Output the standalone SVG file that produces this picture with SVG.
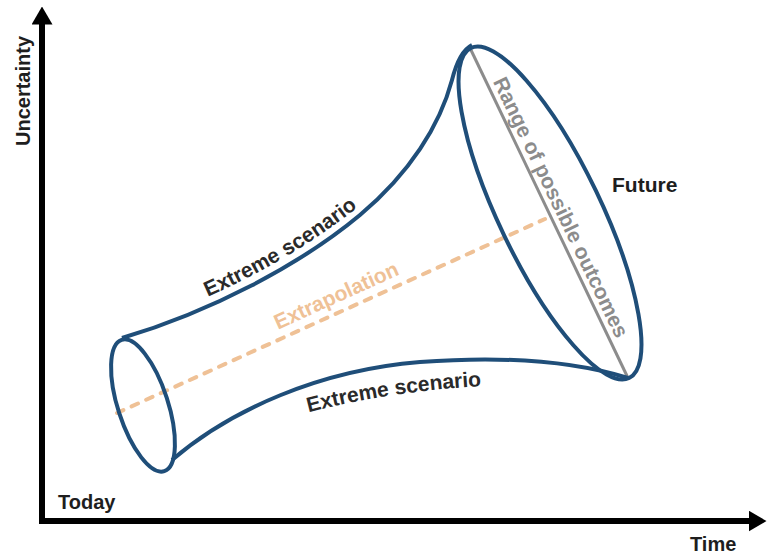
<svg xmlns="http://www.w3.org/2000/svg" width="768" height="557" viewBox="0 0 768 557">
<style>
text{font-family:"Liberation Sans",Arial,sans-serif;font-weight:bold;font-size:21px}
.lbl{fill:#1e1e1e}
.dark{fill:#2a2a2a}
.blue{fill:none;stroke:#1f4e79;stroke-width:4}
.axis{fill:none;stroke:#000;stroke-width:6}
</style>
<defs>
<marker id="arrow" markerUnits="userSpaceOnUse" markerWidth="18" markerHeight="21" viewBox="0 0 18 21" refX="0.5" refY="10.5" orient="auto">
<path d="M0,0 L18,10.5 L0,21 Z" fill="#000"/>
</marker>
<path id="upperTextPath" d="M198,301 Q290,262 366,201"/>
<path id="lowerTextPath" d="M306,413 Q390,391 484,386"/>
</defs>
<rect width="768" height="557" fill="#fff"/>
<g id="axes">
<path class="axis" d="M42,24 L42,521 L749,521" marker-end="url(#arrow)"/>
<line class="axis" x1="42" y1="60" x2="42" y2="24" marker-end="url(#arrow)"/>
<text class="lbl" transform="translate(30,91) rotate(-90)" text-anchor="middle" style="font-size:20px">Uncertainty</text>
<text class="lbl" x="690" y="551" style="font-size:20px">Time</text>
<text class="lbl" x="58" y="509" style="font-size:20px">Today</text>
</g>
<g id="connectors">
<path id="extrapolation" d="M117,413 L545,219" fill="none" stroke="#efc196" stroke-width="4" stroke-linecap="round" stroke-dasharray="7 9"/>
<line id="range" x1="470" y1="48" x2="628" y2="378" stroke="#8c8c8c" stroke-width="3"/>
</g>
<g id="funnel">
<path class="blue" d="M122,338 C210,312 300,265 360,215 C410,173 440,125 452,80 C456,64 462,50 472,45"/>
<path class="blue" d="M172,460 C230,410 320,370 420,362 C500,356 570,360 628,378"/>
</g>
<g id="today-end">
<ellipse class="blue" cx="143" cy="405.5" rx="25" ry="69" transform="rotate(-18 143 405.5)"/>
</g>
<g id="future-end">
<ellipse class="blue" cx="550" cy="213" rx="51" ry="183" transform="rotate(-25.6 550 213)"/>
</g>
<g id="labels">
<text class="dark"><textPath href="#upperTextPath" startOffset="50%" text-anchor="middle">Extreme scenario</textPath></text>
<text class="dark"><textPath href="#lowerTextPath" startOffset="50%" text-anchor="middle">Extreme scenario</textPath></text>
<text transform="translate(339,302) rotate(-24.4)" text-anchor="middle" fill="#efc196">Extrapolation</text>
<text transform="translate(549,213) rotate(64.4)" x="0" y="-6" text-anchor="middle" fill="#8c8c8c">Range of possible outcomes</text>
<text class="lbl" x="612" y="192">Future</text>
</g>
</svg>
